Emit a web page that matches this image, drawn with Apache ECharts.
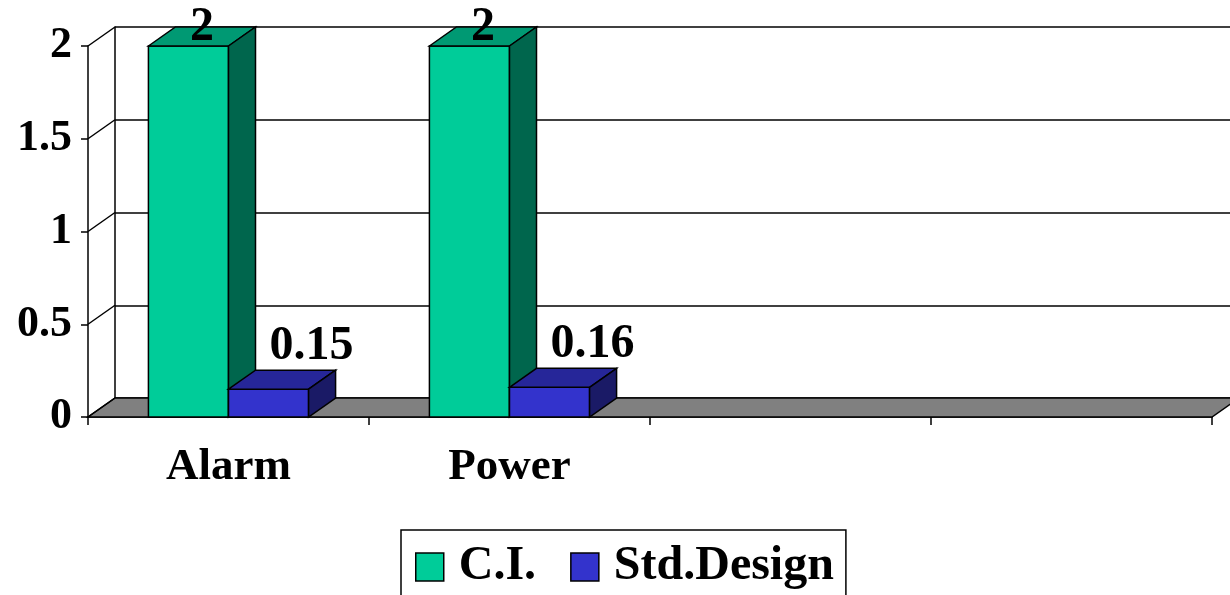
<!DOCTYPE html>
<html>
<head>
<meta charset="utf-8">
<script src="https://cdn.jsdelivr.net/npm/echarts@6.0.0/dist/echarts.min.js"></script>
<style>
  html, body { margin: 0; padding: 0; background: #fff; }
  #chart { width: 1230px; height: 595px; }
</style>
</head>
<body>
<div id="chart"></div>
<script>
// data
const categories = ['Alarm', 'Power', '', '']
const ciValues = [2, 2, null, null]
const stdValues = [0.15, 0.16, null, null]
const yTicks = [0, 0.5, 1, 1.5, 2]

const FONT = '"Liberation Serif", "Times New Roman", serif'
// 3d depth shift in pixels
const DX = 27
const DY = -19
const BAR_RATIO = 0.285

function toItems(values) {
  const out = []
  values.forEach((v, i) => { if (v != null) out.push([i, v]) })
  return out
}

// draws one 3d-looking bar with front, top and side faces
function barRenderer(offset, colors, labelPos) {
  return function (params, api) {
    const idx = api.value(0)
    const v = api.value(1)
    const base = api.coord([idx, 0])
    const top = api.coord([idx, v])
    const bw = api.size([1, 0])[0]
    const w = bw * BAR_RATIO
    const x0 = base[0] + offset * w
    const x1 = x0 + w
    const y0 = base[1]
    const y1 = top[1]
    const line = { stroke: '#000', lineWidth: 1.5 }
    const lp = labelPos(x0, x1, y1)
    return {
      type: 'group',
      children: [
        { type: 'polygon', shape: { points: [[x0, y1], [x1, y1], [x1, y0], [x0, y0]] },
          style: Object.assign({ fill: colors[0] }, line) },
        { type: 'polygon', shape: { points: [[x0, y1], [x0 + DX, y1 + DY], [x1 + DX, y1 + DY], [x1, y1]] },
          style: Object.assign({ fill: colors[1] }, line) },
        { type: 'polygon', shape: { points: [[x1, y1], [x1 + DX, y1 + DY], [x1 + DX, y0 + DY], [x1, y0]] },
          style: Object.assign({ fill: colors[2] }, line) },
        { type: 'text', x: lp[0], y: lp[1],
          style: { text: String(v), font: 'bold 48px ' + FONT, fill: '#000', align: 'center', verticalAlign: 'middle' } }
      ]
    }
  }
}

// gray floor and the diagonal tick lines linking front and back walls
function floorRenderer(params, api) {
  const bw = api.size([1, 0])[0]
  const p = api.coord([0, 0])
  const xa = p[0] - bw / 2
  const xb = xa + bw * categories.length
  const y0 = p[1]
  const children = [
    { type: 'polygon', shape: { points: [[xa, y0], [xb, y0], [xb + DX, y0 + DY], [xa + DX, y0 + DY]] },
      style: { fill: '#808080', stroke: '#000', lineWidth: 1.5 } }
  ]
  yTicks.forEach(t => {
    const y = api.coord([0, t])[1]
    children.push({ type: 'line', shape: { x1: xa, y1: y, x2: xa + DX, y2: y + DY },
      style: { stroke: '#000', lineWidth: 1.5 } })
  })
  return { type: 'group', children: children }
}

const myChart = echarts.init(document.getElementById('chart'))
const option = {
  animation: false,
  backgroundColor: '#fff',
  grid: [
    { left: 88, right: 18, top: 46, bottom: 178 },
    { left: 115, right: 0, top: 27, bottom: 197 }
  ],
  legend: {
    data: ['C.I.', 'Std.Design'],
    left: 401,
    top: 530,
    padding: [13, 12, 30, 14],
    borderColor: '#000',
    borderWidth: 1.5,
    itemWidth: 28,
    itemHeight: 28,
    itemGap: 34,
    icon: 'rect',
    itemStyle: { borderColor: '#000', borderWidth: 1.5 },
    textStyle: { fontFamily: FONT, fontWeight: 'bold', fontSize: 48, color: '#000', padding: [0, 0, 0, 10] }
  },
  xAxis: [
    {
      type: 'category',
      gridIndex: 0,
      data: categories,
      axisLine: { show: true, lineStyle: { color: '#000', width: 1.5 } },
      axisTick: { show: true, length: 8, lineStyle: { color: '#000', width: 1.5 } },
      axisLabel: { fontFamily: FONT, fontWeight: 'bold', fontSize: 45, color: '#000', margin: 28 }
    },
    { type: 'category', gridIndex: 1, data: categories, show: false }
  ],
  yAxis: [
    {
      type: 'value',
      gridIndex: 0,
      min: 0,
      max: 2,
      interval: 0.5,
      axisLine: { show: true, lineStyle: { color: '#000', width: 1.5 } },
      axisTick: { show: true, length: 7, lineStyle: { color: '#000', width: 1.5 } },
      splitLine: { show: false },
      axisLabel: { fontFamily: FONT, fontWeight: 'bold', fontSize: 44, color: '#000', margin: 16 }
    },
    {
      type: 'value',
      gridIndex: 1,
      min: 0,
      max: 2,
      interval: 0.5,
      axisLine: { show: true, lineStyle: { color: '#000', width: 1.5 } },
      axisTick: { show: false },
      axisLabel: { show: false },
      splitLine: { show: true, lineStyle: { color: '#000', width: 1.5 } }
    }
  ],
  series: [
    {
      type: 'custom',
      name: 'floor',
      xAxisIndex: 0,
      yAxisIndex: 0,
      z: 1,
      silent: true,
      data: [[0, 0]],
      renderItem: floorRenderer
    },
    {
      type: 'custom',
      name: 'C.I.',
      xAxisIndex: 0,
      yAxisIndex: 0,
      z: 3,
      itemStyle: { color: '#00CC99' },
      encode: { x: 0, y: 1 },
      data: toItems(ciValues),
      renderItem: barRenderer(-1, ['#00CC99', '#009973', '#00664D'],
        (x0, x1, y1) => [(x0 + x1) / 2 + DX / 2, y1 + DY + 1])
    },
    {
      type: 'custom',
      name: 'Std.Design',
      xAxisIndex: 0,
      yAxisIndex: 0,
      z: 4,
      itemStyle: { color: '#3333CC' },
      encode: { x: 0, y: 1 },
      data: toItems(stdValues),
      renderItem: barRenderer(0, ['#3333CC', '#262699', '#1A1A66'],
        (x0, x1, y1) => [(x0 + x1) / 2 + 43, y1 - 43])
    }
  ]
}
myChart.setOption(option)
</script>
</body>
</html>
